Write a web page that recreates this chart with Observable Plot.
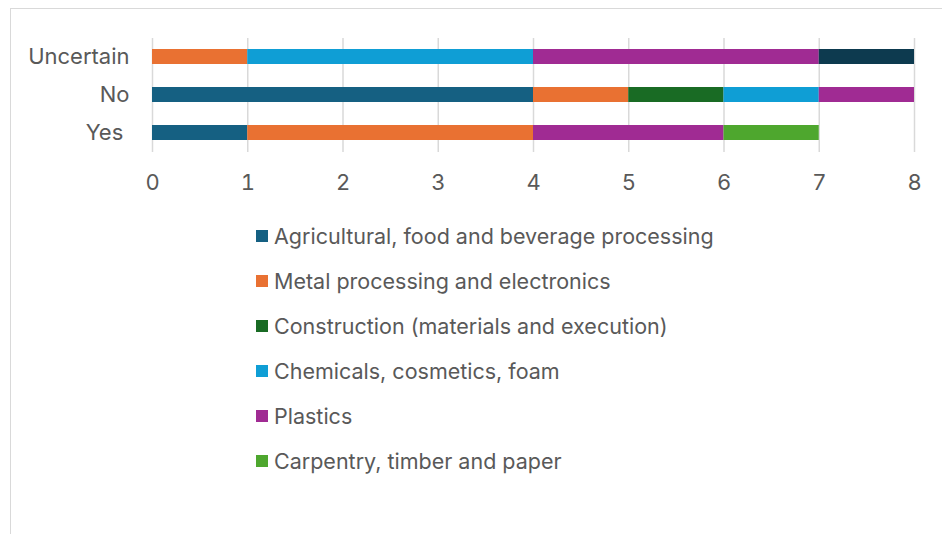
<!DOCTYPE html>
<html>
<head>
<meta charset="utf-8">
<script src="https://cdn.jsdelivr.net/npm/d3@7"></script>
<script src="https://cdn.jsdelivr.net/npm/@observablehq/plot@0.6"></script>
<style>
  html, body { margin: 0; padding: 0; background: #fff; }
  body { width: 942px; height: 534px; position: relative; overflow: hidden; font-family: Inter, "Open Sans", sans-serif; }
  #frame { position: absolute; left: 10px; top: 8px; right: -5px; bottom: -5px; border-left: 1.5px solid #d9d9d9; border-top: 1.5px solid #d9d9d9; }
  #chart { position: absolute; left: 0; top: 0; }
  #legend { position: absolute; left: 256px; top: 213px; }
  .row { display: flex; align-items: center; height: 45px; font-size: 21.5px; color: #595959; }
  .sw { width: 12px; height: 12px; margin-right: 6px; flex: none; }
</style>
</head>
<body>
<div id="frame"></div>
<div id="chart"></div>
<div id="legend"></div>
<script>
const categories = ["Uncertain", "No", "Yes"];
const categoryLabels = ["Uncertain", "No", "Yes\u00a0"];
const seriesNames = [
  "Agricultural, food and beverage processing",
  "Metal processing and electronics",
  "Construction (materials and execution)",
  "Chemicals, cosmetics, foam",
  "Plastics",
  "Carpentry, timber and paper",
  "Other"
];
const seriesColors = ["#156082", "#e97132", "#196b24", "#0f9ed5", "#a02b93", "#4ea72e", "#0d3a4f"];
const legendSeries = seriesNames.slice(0, 6);
// values per category: [Uncertain, No, Yes]
const agricultural = [0, 4, 1];
const metal = [1, 1, 3];
const construction = [0, 1, 0];
const chemicals = [3, 1, 0];
const plastics = [3, 1, 2];
const carpentry = [0, 0, 1];
const other = [1, 0, 0];
const xTicks = [0, 1, 2, 3, 4, 5, 6, 7, 8];

const seriesValues = [agricultural, metal, construction, chemicals, plastics, carpentry, other];
const data = [];
seriesNames.forEach((s, i) => {
  categories.forEach((c, j) => {
    data.push({series: s, category: c, value: seriesValues[i][j]});
  });
});

const plot = Plot.plot({
  width: 942,
  height: 200,
  marginLeft: 152,
  marginRight: 28,
  marginTop: 38,
  marginBottom: 48,
  style: {fontFamily: "Inter, 'Open Sans', sans-serif", fontSize: "22px", color: "#595959", background: "transparent"},
  x: {domain: [0, 8], ticks: xTicks},
  y: {domain: categories, paddingInner: 0.6, paddingOuter: 0.3, label: null},
  color: {domain: seriesNames, range: seriesColors},
  marks: [
    Plot.gridX(xTicks, {stroke: "#d9d9d9", strokeOpacity: 1, strokeWidth: 1.5}),
    Plot.barX(data, Plot.stackX({x: "value", y: "category", fill: "series", order: seriesNames})),
    Plot.axisX({ticks: xTicks, tickSize: 0, tickPadding: 22, label: null, fill: "#595959"}),
    Plot.axisY({tickSize: 0, tickPadding: 23, label: null, fill: "#595959",
      tickFormat: d => categoryLabels[categories.indexOf(d)]})
  ]
});
document.getElementById("chart").appendChild(plot);

const legend = document.getElementById("legend");
legendSeries.forEach((s, i) => {
  const row = document.createElement("div");
  row.className = "row";
  const sw = document.createElement("span");
  sw.className = "sw";
  sw.style.background = seriesColors[i];
  const t = document.createElement("span");
  t.textContent = s;
  row.appendChild(sw);
  row.appendChild(t);
  legend.appendChild(row);
});
</script>
</body>
</html>
